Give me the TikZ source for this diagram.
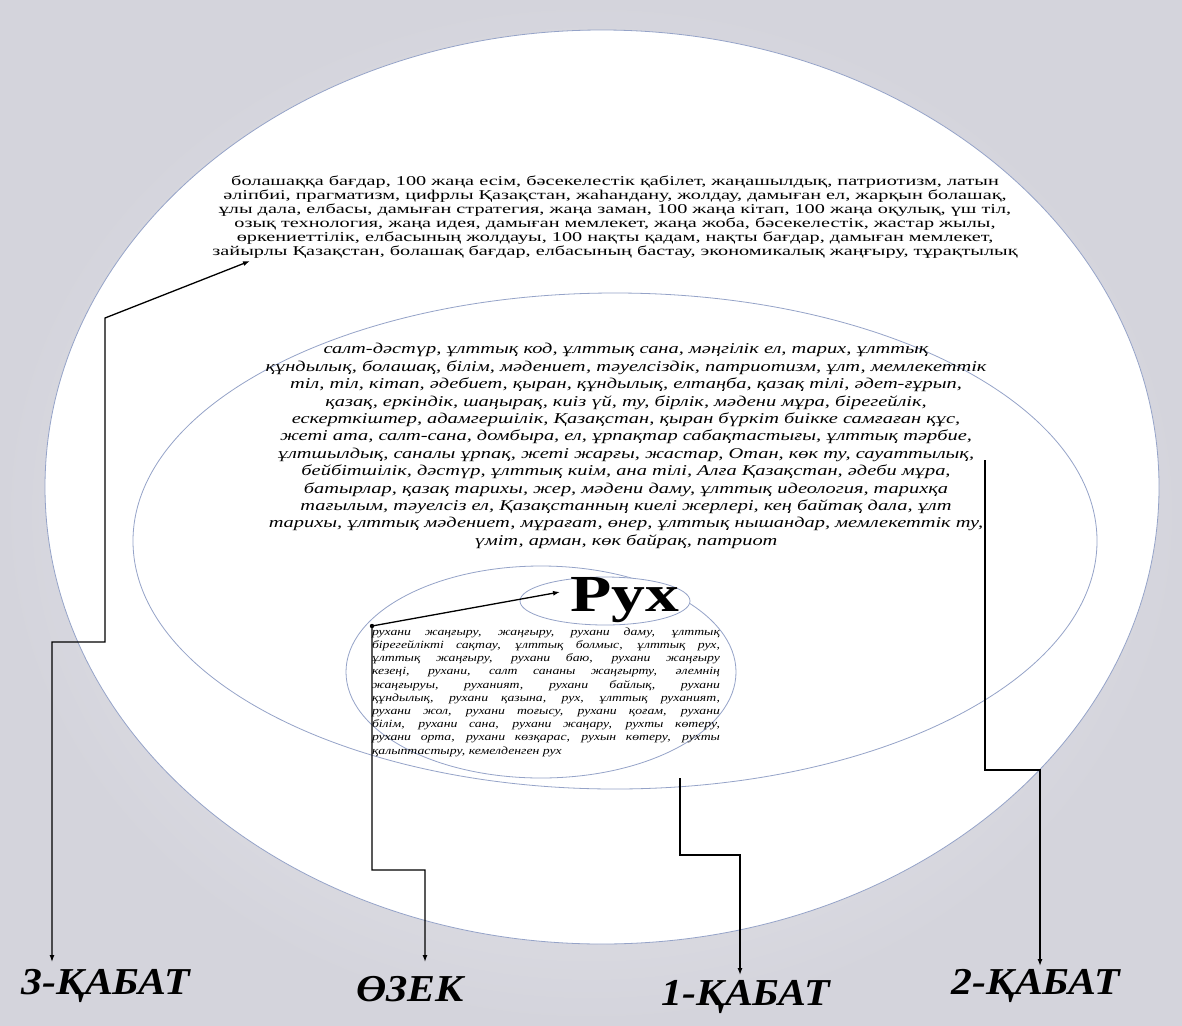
\documentclass[tikz,border=0pt]{standalone}
\usepackage{fontspec}
\setmainfont{Liberation Serif}
\newfontfamily\topserif[FakeStretch=1.5]{Liberation Serif}
\newfontfamily\midserif[FakeStretch=1.36]{Liberation Serif}
\newfontfamily\wideserif[FakeStretch=1.25]{Liberation Serif}
\newfontfamily\bigserif[FakeStretch=1.3]{Liberation Serif}
\newfontfamily\labserif[FakeStretch=1.1]{Liberation Serif}
\usetikzlibrary{arrows.meta}
\definecolor{ringblue}{HTML}{95A3C8}
\definecolor{bgin}{HTML}{F0F0F3}
\definecolor{bgout}{HTML}{D4D4DC}
\newcommand{\jline}[1]{\makebox[348pt][s]{#1}}
\begin{document}
\begin{tikzpicture}[x=1pt,y=-1pt,
  ring/.style={draw=ringblue,line width=0.8pt,fill=white},
  link/.style={line width=1.3pt},
  tip/.style={-{Latex[length=7pt,width=5pt]}},
  tips/.style={{Latex[length=7pt,width=5pt]}-{Latex[length=7pt,width=5pt]}},
  layer/.style={font=\labserif\fontsize{38}{42}\selectfont\bfseries\itshape}]

% background
\shade[inner color=bgin,outer color=bgout] (0,0) rectangle (1182,1025);
\useasboundingbox (0,0) rectangle (1182,1025);

% rings
\draw[ring] (602,487) ellipse [x radius=557,y radius=457];
\draw[ring] (615,541) ellipse [x radius=482,y radius=248];
\draw[ring] (541,672) ellipse [x radius=195,y radius=106];
\draw[ring] (605,601) ellipse [x radius=85,y radius=24];

% texts
\node[align=center,font=\topserif\fontsize{13.5}{14}\selectfont] (outer) at (615,217) {%
болашаққа бағдар, 100 жаңа есім, бәсекелестік қабілет, жаңашылдық, патриотизм, латын\\
әліпбиі, прагматизм, цифрлы Қазақстан, жаһандану, жолдау, дамыған ел, жарқын болашақ,\\
ұлы дала, елбасы, дамыған стратегия, жаңа заман, 100 жаңа кітап, 100 жаңа оқулық, үш тіл,\\
озық технология, жаңа идея, дамыған мемлекет, жаңа жоба, бәсекелестік, жастар жылы,\\
өркениеттілік, елбасының жолдауы, 100 нақты қадам, нақты бағдар, дамыған мемлекет,\\
зайырлы Қазақстан, болашақ бағдар, елбасының бастау, экономикалық жаңғыру, тұрақтылық};

\node[align=center,font=\midserif\itshape\fontsize{15}{17.4}\selectfont] (middle) at (626,446) {%
салт-дәстүр, ұлттық код, ұлттық сана, мәңгілік ел, тарих, ұлттық\\
құндылық, болашақ, білім, мәдениет, тәуелсіздік, патриотизм, ұлт, мемлекеттік\\
тіл, тіл, кітап, әдебиет, қыран, құндылық, елтаңба, қазақ тілі, әдет-ғұрып,\\
қазақ, еркіндік, шаңырақ, киіз үй, ту, бірлік, мәдени мұра, бірегейлік,\\
ескерткіштер, адамгершілік, Қазақстан, қыран бүркіт биікке самғаған құс,\\
жеті ата, салт-сана, домбыра, ел, ұрпақтар сабақтастығы, ұлттық тәрбие,\\
ұлтшылдық, саналы ұрпақ, жеті жарғы, жастар, Отан, көк ту, сауаттылық,\\
бейбітшілік, дәстүр, ұлттық киім, ана тілі, Алға Қазақстан, әдеби мұра,\\
батырлар, қазақ тарихы, жер, мәдени даму, ұлттық идеология, тарихқа\\
тағылым, тәуелсіз ел, Қазақстанның киелі жерлері, кең байтақ дала, ұлт\\
тарихы, ұлттық мәдениет, мұрағат, өнер, ұлттық нышандар, мемлекеттік ту,\\
үміт, арман, көк байрақ, патриот};

\node[align=left,font=\wideserif\itshape\fontsize{11}{13.2}\selectfont] (inner) at (546,692) {%
\jline{рухани жаңғыру, жаңғыру, рухани даму, ұлттық}\\
\jline{бірегейлікті сақтау, ұлттық болмыс, ұлттық рух,}\\
\jline{ұлттық жаңғыру, рухани баю, рухани жаңғыру}\\
\jline{кезеңі, рухани, салт сананы жаңғырту, әлемнің}\\
\jline{жаңғыруы, руханият, рухани байлық, рухани}\\
\jline{құндылық, рухани қазына, рух, ұлттық руханият,}\\
\jline{рухани жол, рухани тоғысу, рухани қоғам, рухани}\\
\jline{білім, рухани сана, рухани жаңару, рухты көтеру,}\\
\jline{рухани орта, рухани көзқарас, рухын көтеру, рухты}\\
қалыптастыру, кемелденген рух};

\node[font=\bigserif\fontsize{52}{56}\selectfont\bfseries] (rux) at (625,600) {Рух};

% labels
\node[layer] (lbl3) at (106,986) {3-ҚАБАТ};
\node[layer] (lbl0) at (410,989) {ӨЗЕК};
\node[layer] (lbl1) at (746,997) {1-ҚАБАТ};
\node[layer] (lbl2) at (1036,986) {2-ҚАБАТ};

% connectors
\coordinate (s3) at (250,261);
\coordinate (e3) at (52,962);
\coordinate (s0) at (560,592);
\coordinate (e0) at (425,962);
\coordinate (s1) at (680,778);
\coordinate (e1) at (740,975);
\coordinate (s2) at (985,460);
\coordinate (e2) at (1040,966);

\draw[link,tips] (s3) -- (105,318) -- (105,642) -- (52,642) -- (e3);
\draw[link,tips] (s0) -- (372,626) -- (372,870) -- (425,870) -- (e0);
\fill (372,626) circle (2.2pt);
\draw[link,tip] (s1) -- (680,855) -- (740,855) -- (e1);
\draw[link,tip] (s2) -- (985,770) -- (1040,770) -- (e2);

\end{tikzpicture}
\end{document}
